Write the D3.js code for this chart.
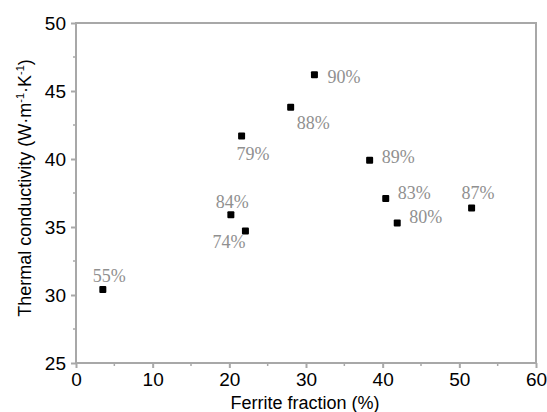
<!DOCTYPE html>
<html><head><meta charset="utf-8">
<script src="https://cdn.jsdelivr.net/npm/d3@7"></script>
<style>body{margin:0;background:#fff}svg{display:block}</style>
</head><body>
<script>
const ferrite = [3.5, 20.2, 22.1, 21.6, 28.0, 31.1, 38.3, 40.4, 41.9, 51.6];
const conductivity = [30.4, 35.9, 34.7, 41.7, 43.8, 46.2, 39.9, 37.1, 35.3, 36.4];
const labels = ["55%", "84%", "74%", "79%", "88%", "90%", "89%", "83%", "80%", "87%"];
const xTicks = [0, 10, 20, 30, 40, 50, 60];
const yTicks = [25, 30, 35, 40, 45, 50];

// label placement (pixel offsets of text left edge / vertical centre from point)
const labelOffsets = [[-10,-14],[-15,-13],[-33,11],[-5,18],[6,16],[13,2],[12,-3],[12,-5],[12,-6],[-10,-15]];

const W = 547, H = 412;
const m = {left: 76, right: 536, top: 23, bottom: 363};
const svg = d3.select("body").append("svg").attr("width", W).attr("height", H);
const x = d3.scaleLinear().domain([0, 60]).range([m.left, m.right]);
const y = d3.scaleLinear().domain([25, 50]).range([m.bottom, m.top]);
const axisColor = "#a8a8a8";

svg.append("rect").attr("x", m.left).attr("y", m.top).attr("width", m.right - m.left).attr("height", m.bottom - m.top)
  .attr("fill", "none").attr("stroke", axisColor).attr("stroke-width", 2);

const xMinor = d3.range(5, 60, 10), yMinor = d3.range(27.5, 50, 5);
svg.append("g").selectAll("line").data(xMinor).join("line")
  .attr("x1", d => x(d)).attr("x2", d => x(d)).attr("y1", m.bottom).attr("y2", m.bottom + 3)
  .attr("stroke", axisColor).attr("stroke-width", 1.5);
svg.append("g").selectAll("line").data(yMinor).join("line")
  .attr("y1", d => y(d)).attr("y2", d => y(d)).attr("x1", m.left).attr("x2", m.left - 3)
  .attr("stroke", axisColor).attr("stroke-width", 1.5);

const xAxis = svg.append("g").attr("transform", `translate(0,${m.bottom})`)
  .call(d3.axisBottom(x).tickValues(xTicks).tickSize(5).tickPadding(5).tickFormat(d3.format("d")));
const yAxis = svg.append("g").attr("transform", `translate(${m.left},0)`)
  .call(d3.axisLeft(y).tickValues(yTicks).tickSize(5).tickPadding(5).tickFormat(d3.format("d")));
[xAxis, yAxis].forEach(g => {
  g.select(".domain").remove();
  g.selectAll(".tick line").attr("stroke", axisColor).attr("stroke-width", 2);
  g.selectAll(".tick text").attr("fill", "#000").attr("font-family", "Liberation Sans, Arial, sans-serif").attr("font-size", 19);
});

svg.append("text").attr("x", (m.left + m.right) / 2 - 1).attr("y", 409)
  .attr("text-anchor", "middle").attr("font-family", "Liberation Sans, Arial, sans-serif").attr("font-size", 18)
  .text("Ferrite fraction (%)");
const yt = svg.append("text").attr("transform", `translate(31,188) rotate(-90)`)
  .attr("text-anchor", "middle").attr("font-family", "Liberation Sans, Arial, sans-serif").attr("font-size", 18);
yt.append("tspan").text("Thermal conductivity (W·m");
yt.append("tspan").attr("dy", -7).attr("font-size", 11).text("-1");
yt.append("tspan").attr("dy", 7).text("·K");
yt.append("tspan").attr("dy", -7).attr("font-size", 11).text("-1");
yt.append("tspan").attr("dy", 7).text(")");

const data = ferrite.map((f, i) => ({f, k: conductivity[i], label: labels[i], off: labelOffsets[i]}));
svg.append("g").selectAll("rect").data(data).join("rect")
  .attr("x", d => x(d.f) - 3.5).attr("y", d => y(d.k) - 3.5).attr("width", 7).attr("height", 7)
  .attr("rx", 1).attr("fill", "#000");
svg.append("g").selectAll("text").data(data).join("text")
  .attr("x", d => x(d.f) + d.off[0]).attr("y", d => y(d.k) + d.off[1] + 6)
  .attr("font-family", "'Liberation Serif', 'Times New Roman', serif").attr("font-size", 18)
  .attr("fill", "#909090").text(d => d.label);
</script>
</body></html>
